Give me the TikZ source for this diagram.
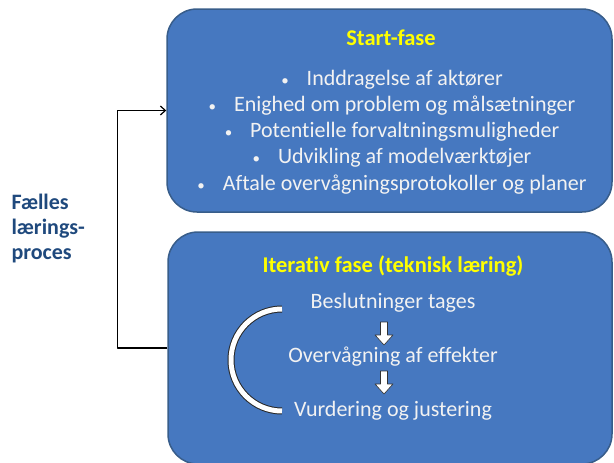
\documentclass[tikz,border=0pt]{standalone}
\usepackage{fontspec}
\setmainfont{Carlito}[Ligatures=NoCommon]
\usetikzlibrary{arrows.meta}
\definecolor{boxblue}{RGB}{70,120,192}
\definecolor{boxedge}{RGB}{56,93,138}
\definecolor{titleyellow}{RGB}{255,255,0}
\definecolor{navy}{RGB}{31,73,125}
\newcommand{\blt}{{\fontsize{15}{15}\selectfont\textbullet}\hspace{18pt}}
\tikzset{
  phase/.style={draw=boxedge, line width=1.5pt, fill=boxblue, rounded corners=30pt},
  ttl/.style={text=titleyellow, font=\bfseries\fontsize{22.5}{22.5}\selectfont},
  item/.style={text=white!95!black, font=\fontsize{22}{22}\selectfont},
  blockarrow/.style={draw=black!80, fill=white, line width=.6pt}
}
\begin{document}
\begin{tikzpicture}[x=1pt,y=-1pt,>={Straight Barb[length=5pt,width=9pt]},line join=round]
    \useasboundingbox (0,0) rectangle (614,463);
    % the two phases
    \node[phase, minimum width=445pt, minimum height=203pt] (start) at (389.5,110.5) {};
    \node[phase, minimum width=444pt, minimum height=232pt] (iter) at (390,348) {};
    % start phase
    \node[ttl] (ts) at (391,38) {Start-fase};
    \node[item] (s1) at (392,80) {\blt Inddragelse af aktører};
    \node[item] (s2) at (392,106) {\blt Enighed om problem og målsætninger};
    \node[item] (s3) at (392,132) {\blt Potentielle forvaltningsmuligheder};
    \node[item] (s4) at (392,158) {\blt Udvikling af modelværktøjer};
    \node[item] (s5) at (392,185) {\blt Aftale overvågningsprotokoller og planer};
    % iterative phase
    \node[ttl] (ti) at (393,266) {Iterativ fase (teknisk læring)};
    \node[item] (b1) at (393,303) {Beslutninger tages};
    \node[item] (b2) at (393,357) {Overvågning af effekter};
    \node[item] (b3) at (393,411) {Vurdering og justering};
    \coordinate (a1) at (384,322);
    \coordinate (a2) at (384,371);
    \foreach \a in {a1,a2}
      \draw[blockarrow] (\a) ++(-3.5,0) -- ++(7,0) -- ++(0,13) -- ++(5.5,0) -- ++(-9,10) -- ++(-9,-10) -- ++(5.5,0) -- cycle;
    \draw[double=white, double distance=5pt, line width=1pt, black!85] (282,309) arc[start angle=270, end angle=90, radius=51];
    % shared learning
    \node[align=left, anchor=west, text=navy, font=\bfseries\fontsize{22}{25}\selectfont] (fl) at (8,229) {Fælles\\lærings-\\proces};
    \draw[->, line width=1.2pt] (iter.west) -- ++(-50,0) |- (start.west);
\end{tikzpicture}
\end{document}
